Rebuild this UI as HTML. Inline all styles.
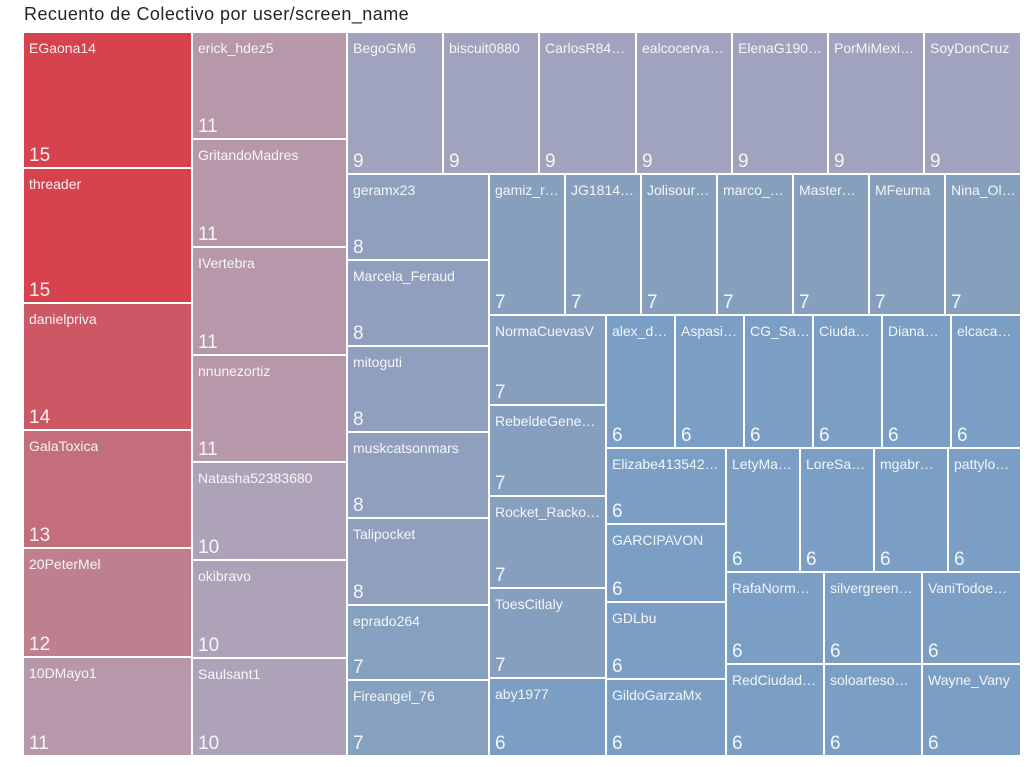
<!DOCTYPE html>
<html><head><meta charset="utf-8"><style>
body{margin:0;width:1036px;height:767px;background:#fff;position:relative;overflow:hidden;font-family:"Liberation Sans",sans-serif}
.t{position:absolute;left:24px;top:4px;font-size:18px;letter-spacing:0.45px;color:#252423;white-space:nowrap}
.c{position:absolute;box-sizing:border-box;color:rgba(255,255,255,.9);overflow:hidden}
.c .n{position:absolute;left:5px;top:7px;font-size:14px;white-space:nowrap;right:3px;overflow:hidden}
.c .v{position:absolute;left:5px;bottom:0px;font-size:19px;line-height:22px}
</style></head><body>
<div class="t">Recuento de Colectivo por user/screen_name</div>
<div class="c" style="left:24px;top:33px;width:167px;height:134px;background:#d6434f"><div class="n">EGaona14</div><div class="v">15</div></div>
<div class="c" style="left:24px;top:169px;width:167px;height:133px;background:#d6434f"><div class="n">threader</div><div class="v">15</div></div>
<div class="c" style="left:24px;top:304px;width:167px;height:125px;background:#cc5866"><div class="n">danielpriva</div><div class="v">14</div></div>
<div class="c" style="left:24px;top:431px;width:167px;height:116px;background:#c46e7c"><div class="n">GalaToxica</div><div class="v">13</div></div>
<div class="c" style="left:24px;top:549px;width:167px;height:107px;background:#be808f"><div class="n">20PeterMel</div><div class="v">12</div></div>
<div class="c" style="left:24px;top:658px;width:167px;height:97px;background:#b797aa"><div class="n">10DMayo1</div><div class="v">11</div></div>

<div class="c" style="left:193px;top:33px;width:153px;height:105px;background:#b797aa"><div class="n">erick_hdez5</div><div class="v">11</div></div>
<div class="c" style="left:193px;top:140px;width:153px;height:106px;background:#b797aa"><div class="n">GritandoMadres</div><div class="v">11</div></div>
<div class="c" style="left:193px;top:248px;width:153px;height:106px;background:#b797aa"><div class="n">IVertebra</div><div class="v">11</div></div>
<div class="c" style="left:193px;top:356px;width:153px;height:105px;background:#b797aa"><div class="n">nnunezortiz</div><div class="v">11</div></div>
<div class="c" style="left:193px;top:463px;width:153px;height:96px;background:#ada2b8"><div class="n">Natasha52383680</div><div class="v">10</div></div>
<div class="c" style="left:193px;top:561px;width:153px;height:96px;background:#ada2b8"><div class="n">okibravo</div><div class="v">10</div></div>
<div class="c" style="left:193px;top:659px;width:153px;height:96px;background:#ada2b8"><div class="n">Saulsant1</div><div class="v">10</div></div>

<div class="c" style="left:348px;top:33px;width:94px;height:140px;background:#a0a3bd"><div class="n">BegoGM6</div><div class="v">9</div></div>
<div class="c" style="left:444px;top:33px;width:94px;height:140px;background:#a0a3bd"><div class="n">biscuit0880</div><div class="v">9</div></div>
<div class="c" style="left:540px;top:33px;width:95px;height:140px;background:#a0a3bd"><div class="n">CarlosR84…</div><div class="v">9</div></div>
<div class="c" style="left:637px;top:33px;width:94px;height:140px;background:#a0a3bd"><div class="n">ealcocerva…</div><div class="v">9</div></div>
<div class="c" style="left:733px;top:33px;width:94px;height:140px;background:#a0a3bd"><div class="n">ElenaG190…</div><div class="v">9</div></div>
<div class="c" style="left:829px;top:33px;width:94px;height:140px;background:#a0a3bd"><div class="n">PorMiMexi…</div><div class="v">9</div></div>
<div class="c" style="left:925px;top:33px;width:95px;height:140px;background:#a0a3bd"><div class="n">SoyDonCruz</div><div class="v">9</div></div>

<div class="c" style="left:348px;top:175px;width:140px;height:84px;background:#909fbd"><div class="n">geramx23</div><div class="v">8</div></div>
<div class="c" style="left:348px;top:261px;width:140px;height:84px;background:#909fbd"><div class="n">Marcela_Feraud</div><div class="v">8</div></div>
<div class="c" style="left:348px;top:347px;width:140px;height:84px;background:#909fbd"><div class="n">mitoguti</div><div class="v">8</div></div>
<div class="c" style="left:348px;top:433px;width:140px;height:84px;background:#909fbd"><div class="n">muskcatsonmars</div><div class="v">8</div></div>
<div class="c" style="left:348px;top:519px;width:140px;height:85px;background:#909fbd"><div class="n">Talipocket</div><div class="v">8</div></div>
<div class="c" style="left:348px;top:606px;width:140px;height:73px;background:#86a0c0"><div class="n">eprado264</div><div class="v">7</div></div>
<div class="c" style="left:348px;top:681px;width:140px;height:74px;background:#86a0c0"><div class="n">Fireangel_76</div><div class="v">7</div></div>

<div class="c" style="left:490px;top:175px;width:74px;height:139px;background:#869fbd"><div class="n">gamiz_r…</div><div class="v">7</div></div>
<div class="c" style="left:566px;top:175px;width:74px;height:139px;background:#869fbd"><div class="n">JG1814…</div><div class="v">7</div></div>
<div class="c" style="left:642px;top:175px;width:74px;height:139px;background:#869fbd"><div class="n">Jolisour…</div><div class="v">7</div></div>
<div class="c" style="left:718px;top:175px;width:74px;height:139px;background:#869fbd"><div class="n">marco_…</div><div class="v">7</div></div>
<div class="c" style="left:794px;top:175px;width:74px;height:139px;background:#869fbd"><div class="n">Master…</div><div class="v">7</div></div>
<div class="c" style="left:870px;top:175px;width:74px;height:139px;background:#869fbd"><div class="n">MFeuma</div><div class="v">7</div></div>
<div class="c" style="left:946px;top:175px;width:74px;height:139px;background:#869fbd"><div class="n">Nina_Ol…</div><div class="v">7</div></div>

<div class="c" style="left:490px;top:316px;width:115px;height:88px;background:#869fbf"><div class="n">NormaCuevasV</div><div class="v">7</div></div>
<div class="c" style="left:490px;top:406px;width:115px;height:89px;background:#869fbf"><div class="n">RebeldeGene…</div><div class="v">7</div></div>
<div class="c" style="left:490px;top:497px;width:115px;height:90px;background:#869fbf"><div class="n">Rocket_Racko…</div><div class="v">7</div></div>
<div class="c" style="left:490px;top:589px;width:115px;height:88px;background:#869fbf"><div class="n">ToesCitlaly</div><div class="v">7</div></div>
<div class="c" style="left:490px;top:679px;width:115px;height:76px;background:#7a9ec4"><div class="n">aby1977</div><div class="v">6</div></div>

<div class="c" style="left:607px;top:316px;width:67px;height:131px;background:#7a9ec4"><div class="n">alex_d…</div><div class="v">6</div></div>
<div class="c" style="left:676px;top:316px;width:67px;height:131px;background:#7a9ec4"><div class="n">Aspasi…</div><div class="v">6</div></div>
<div class="c" style="left:745px;top:316px;width:67px;height:131px;background:#7a9ec4"><div class="n">CG_Sa…</div><div class="v">6</div></div>
<div class="c" style="left:814px;top:316px;width:67px;height:131px;background:#7a9ec4"><div class="n">Ciuda…</div><div class="v">6</div></div>
<div class="c" style="left:883px;top:316px;width:67px;height:131px;background:#7a9ec4"><div class="n">Diana…</div><div class="v">6</div></div>
<div class="c" style="left:952px;top:316px;width:68px;height:131px;background:#7a9ec4"><div class="n">elcaca…</div><div class="v">6</div></div>

<div class="c" style="left:607px;top:449px;width:118px;height:74px;background:#7a9ec4"><div class="n">Elizabe413542…</div><div class="v">6</div></div>
<div class="c" style="left:607px;top:525px;width:118px;height:76px;background:#7a9ec4"><div class="n">GARCIPAVON</div><div class="v">6</div></div>
<div class="c" style="left:607px;top:603px;width:118px;height:75px;background:#7a9ec4"><div class="n">GDLbu</div><div class="v">6</div></div>
<div class="c" style="left:607px;top:680px;width:118px;height:75px;background:#7a9ec4"><div class="n">GildoGarzaMx</div><div class="v">6</div></div>

<div class="c" style="left:727px;top:449px;width:72px;height:122px;background:#7a9ec4"><div class="n">LetyMa…</div><div class="v">6</div></div>
<div class="c" style="left:801px;top:449px;width:72px;height:122px;background:#7a9ec4"><div class="n">LoreSa…</div><div class="v">6</div></div>
<div class="c" style="left:875px;top:449px;width:72px;height:122px;background:#7a9ec4"><div class="n">mgabr…</div><div class="v">6</div></div>
<div class="c" style="left:949px;top:449px;width:71px;height:122px;background:#7a9ec4"><div class="n">pattylo…</div><div class="v">6</div></div>

<div class="c" style="left:727px;top:573px;width:96px;height:90px;background:#7a9ec4"><div class="n">RafaNorm…</div><div class="v">6</div></div>
<div class="c" style="left:825px;top:573px;width:96px;height:90px;background:#7a9ec4"><div class="n">silvergreen…</div><div class="v">6</div></div>
<div class="c" style="left:923px;top:573px;width:97px;height:90px;background:#7a9ec4"><div class="n">VaniTodoe…</div><div class="v">6</div></div>
<div class="c" style="left:727px;top:665px;width:96px;height:90px;background:#7a9ec4"><div class="n">RedCiudad…</div><div class="v">6</div></div>
<div class="c" style="left:825px;top:665px;width:96px;height:90px;background:#7a9ec4"><div class="n">soloarteso…</div><div class="v">6</div></div>
<div class="c" style="left:923px;top:665px;width:97px;height:90px;background:#7a9ec4"><div class="n">Wayne_Vany</div><div class="v">6</div></div>
</body></html>
